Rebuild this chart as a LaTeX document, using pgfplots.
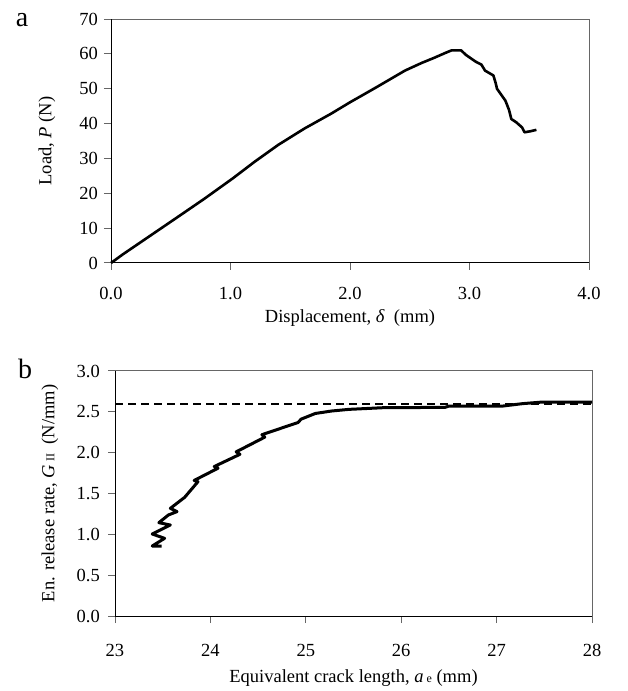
\documentclass[border=0pt]{standalone}
\usepackage{fontspec}
\setmainfont{Liberation Serif}
\usepackage{pgfplots}
\pgfplotsset{compat=1.18}
\begin{document}
\fontsize{18}{21}\selectfont
\begin{tikzpicture}
\useasboundingbox (0pt,0pt) rectangle (627pt,691pt);
\pgfplotsset{
 common/.style={
  scale only axis,
  anchor=south west,
  axis line style={draw=black!60, line width=1pt},
  tick style={draw=black!60, line width=1pt},
  tick align=outside,
  major tick length=7pt,
  xtick pos=bottom, ytick pos=left,
  /pgf/number format/assume math mode=true,
  tick label style={font=\fontsize{18.5}{21}\selectfont},
  label style={font=\fontsize{18.5}{21}\selectfont},
  clip=false,
 }
}
% panel a
\begin{axis}[common,
  at={(111pt,428pt)}, width=478pt, height=244pt,
  xmin=0, xmax=4, ymin=0, ymax=70,
  xtick={0,1,2,3,4},
  ytick={0,10,20,30,40,50,60,70},
  xticklabel style={yshift=-11pt,/pgf/number format/.cd,fixed,fixed zerofill,precision=1},
  xlabel={Displacement, \textit{δ}\ \ (mm)},
  ylabel={Load, \textit{P} (N)},
  xlabel style={at={(axis description cs:0.5,-0.2254)}, anchor=center},
  ylabel style={at={(axis description cs:-0.1339,0.5)}, anchor=center},
]
\addplot[black, line width=2.6pt, line join=round] coordinates {
(0,0) (0.10,2.5) (0.31,7.4) (0.55,13.0) (0.78,18.4) (1.02,24.3) (1.20,29.0)
(1.40,33.9) (1.62,38.6) (1.84,42.8) (2.00,46.1) (2.22,50.4) (2.46,55.2)
(2.60,57.4) (2.70,58.8) (2.80,60.3) (2.85,61.0) (2.93,61.0) (2.97,59.7)
(3.05,57.8) (3.10,56.9) (3.13,55.2) (3.20,53.8) (3.22,51.5) (3.23,50.0)
(3.30,46.6) (3.33,44.0) (3.35,41.3) (3.39,40.4) (3.44,38.9) (3.46,37.5)
(3.51,37.8) (3.56,38.2)
};
\draw[black, line width=1pt] (rel axis cs:0,1) -- (rel axis cs:0,0) -- (rel axis cs:1,0);
\end{axis}
% panel b
\begin{axis}[common,
  at={(115pt,75pt)}, width=477pt, height=245pt,
  xmin=23, xmax=28, ymin=0, ymax=3,
  xtick={23,24,25,26,27,28},
  ytick={0,0.5,1,1.5,2,2.5,3},
  xticklabel style={yshift=-15pt},
  yticklabel style={xshift=-2pt,/pgf/number format/.cd,fixed,fixed zerofill,precision=1},
  xlabel={Equivalent crack length, \textit{a}\,{\fontsize{12}{14}\selectfont e} (mm)},
  ylabel={En. release rate, \textit{G}\,{\fontsize{12}{14}\selectfont II}\ \ (N/mm)},
  xlabel style={at={(axis description cs:0.5,-0.253)}, anchor=center},
  ylabel style={at={(axis description cs:-0.1363,0.5)}, anchor=center},
]
\addplot[black, line width=2pt, dash pattern=on 8pt off 5pt] coordinates {(23,2.6) (28,2.6)};
\addplot[black, line width=3pt, line join=round] coordinates {
(23.49,0.857) (23.39,0.857) (23.52,0.951) (23.39,1.004) (23.58,1.114)
(23.46,1.143) (23.56,1.237) (23.65,1.278) (23.58,1.318) (23.73,1.453)
(23.87,1.645) (23.83,1.66) (24.08,1.81) (24.04,1.83) (24.31,1.98) (24.27,2.01)
(24.57,2.19) (24.54,2.22) (24.92,2.37) (24.95,2.41) (25.10,2.48) (25.27,2.51)
(25.45,2.53) (25.80,2.55) (26.46,2.555) (26.50,2.57) (27.06,2.57) (27.27,2.60)
(27.48,2.62) (28.00,2.62)
};
\draw[black, line width=1pt] (rel axis cs:0,1) -- (rel axis cs:0,0) -- (rel axis cs:1,0);
\end{axis}
\node[anchor=base, font=\fontsize{28}{32}\selectfont] at (22pt,664pt) {a};
\node[anchor=base, font=\fontsize{28}{32}\selectfont] at (25pt,312pt) {b};
\end{tikzpicture}
\end{document}
